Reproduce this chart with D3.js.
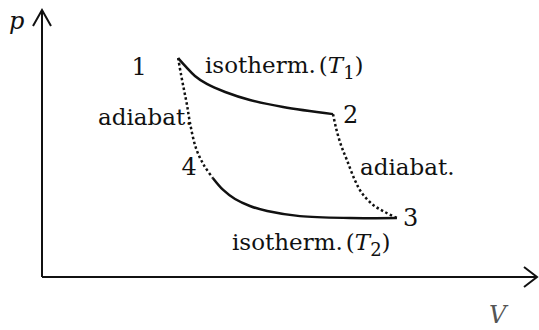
<!DOCTYPE html>
<html>
<head>
<meta charset="utf-8">
<script src="https://cdn.jsdelivr.net/npm/d3@7"></script>
<style>
	body { margin: 0; background: #fff; }
	svg { display: block; }
</style>
</head>
<body>
<script>
// state-curve samples (V, p in arbitrary units 0..100)
const isoHotV = [27.5, 29.1, 30.9, 33.3, 37.0, 42.0, 48.7, 58.8]
const isoHotP = [82.0, 78.7, 75.3, 72.3, 69.3, 66.3, 63.7, 61.0]

const isoColdV = [34.5, 36.6, 39.0, 42.0, 45.5, 52.1, 62.2, 71.7]
const isoColdP = [37.1, 32.6, 29.2, 26.6, 24.7, 22.8, 22.1, 22.1]

const adiaLeftV = [27.5, 28.1, 28.7, 29.3, 29.9, 31.1, 32.7, 34.5]
const adiaLeftP = [82.0, 75.7, 70.0, 64.4, 57.7, 48.3, 41.9, 37.1]

const adiaRightV = [58.8, 59.4, 60.4, 61.6, 63.2, 64.6, 66.9, 69.3, 71.7]
const adiaRightP = [61.0, 55.8, 49.4, 43.8, 36.3, 31.5, 27.0, 24.3, 22.1]

const stateLabels = ['1', '2', '3', '4']
const isoLabel = 'isotherm.'
const adiaLabel = 'adiabat.'
const tempLabels = ['T', '1', '2']   // symbol, hot index, cold index
const axisLabels = ['p', 'V']

const width = 539
const height = 330
const FONT = 'DejaVu Serif'

const scaleX = d3.scaleLinear().domain([0, 100]).range([42, 537])
const scaleY = d3.scaleLinear().domain([0, 100]).range([277, 10])

const zip = (vs, ps) => vs.map((v, i) => ({ v, p: ps[i] }))

const svg = d3.select('body').append('svg')
	.attr('width', width)
	.attr('height', height)
	.style('font-family', FONT)
	.attr('font-size', 23)
	.attr('fill', '#111')

// axes with open arrowheads
const axis = svg.append('g').attr('class', 'g-axis')
	.attr('stroke', '#111')
	.attr('stroke-width', 2)
	.attr('fill', 'none')

const x0 = scaleX(0), y0 = scaleY(0)
const xEnd = scaleX(100), yEnd = scaleY(100)

axis.append('line')
	.attr('x1', x0).attr('y1', y0)
	.attr('x2', xEnd).attr('y2', y0)

axis.append('line')
	.attr('x1', x0).attr('y1', y0)
	.attr('x2', x0).attr('y2', yEnd)

axis.append('path')
	.attr('d', `M${xEnd - 13},${y0 - 10} L${xEnd},${y0} L${xEnd - 13},${y0 + 10}`)

axis.append('path')
	.attr('d', `M${x0 - 9},${yEnd + 16} L${x0},${yEnd} L${x0 + 9},${yEnd + 16}`)

svg.append('text')
	.attr('x', 9).attr('y', 29)
	.attr('font-size', 24)
	.attr('font-style', 'italic')
	.text(axisLabels[0])

svg.append('text')
	.attr('x', 489).attr('y', 323)
	.attr('font-size', 24)
	.attr('font-style', 'italic')
	.attr('fill', '#555')
	.text(axisLabels[1])

// cycle curves
const line = d3.line()
	.x(d => scaleX(d.v))
	.y(d => scaleY(d.p))
	.curve(d3.curveCatmullRom)

const curves = svg.append('g').attr('fill', 'none').attr('stroke', '#111')

curves.selectAll('.iso')
	.data([zip(isoHotV, isoHotP), zip(isoColdV, isoColdP)])
	.enter().append('path')
		.attr('class', 'iso')
		.attr('stroke-width', 2.5)
		.attr('d', line)

curves.selectAll('.adia')
	.data([zip(adiaLeftV, adiaLeftP), zip(adiaRightV, adiaRightP)])
	.enter().append('path')
		.attr('class', 'adia')
		.attr('stroke-width', 2.5)
		.attr('stroke-dasharray', '2.5,2.5')
		.attr('d', line)

// state points
const states = [
	{ v: isoHotV[0], p: isoHotP[0], dx: -39, dy: 17, anchor: 'middle' },
	{ v: isoHotV[isoHotV.length - 1], p: isoHotP[isoHotP.length - 1], dx: 10, dy: 9, anchor: 'start' },
	{ v: isoColdV[isoColdV.length - 1], p: isoColdP[isoColdP.length - 1], dx: 6, dy: 8, anchor: 'start' },
	{ v: isoColdV[0], p: isoColdP[0], dx: -16, dy: -3, anchor: 'end' }
]

svg.selectAll('.state')
	.data(states)
	.enter().append('text')
		.attr('class', 'state')
		.attr('font-size', 24)
		.attr('x', d => scaleX(d.v) + d.dx)
		.attr('y', d => scaleY(d.p) + d.dy)
		.attr('text-anchor', d => d.anchor)
		.text((d, i) => stateLabels[i])

function isoText(x, y, idx) {
	const t = svg.append('text').attr('x', x).attr('y', y)
	t.append('tspan').text(isoLabel)
	t.append('tspan').attr('dx', 3).text('(')
	t.append('tspan').attr('font-style', 'italic').text(tempLabels[0])
	t.append('tspan').attr('dy', 6).attr('font-size', 18).text(tempLabels[idx])
	t.append('tspan').attr('dy', -6).text(')')
}

isoText(205, 73, 1)
isoText(232, 250, 2)

svg.append('text').attr('x', 98).attr('y', 125).text(adiaLabel)
svg.append('text').attr('x', 360).attr('y', 175).text(adiaLabel)
</script>
</body>
</html>
